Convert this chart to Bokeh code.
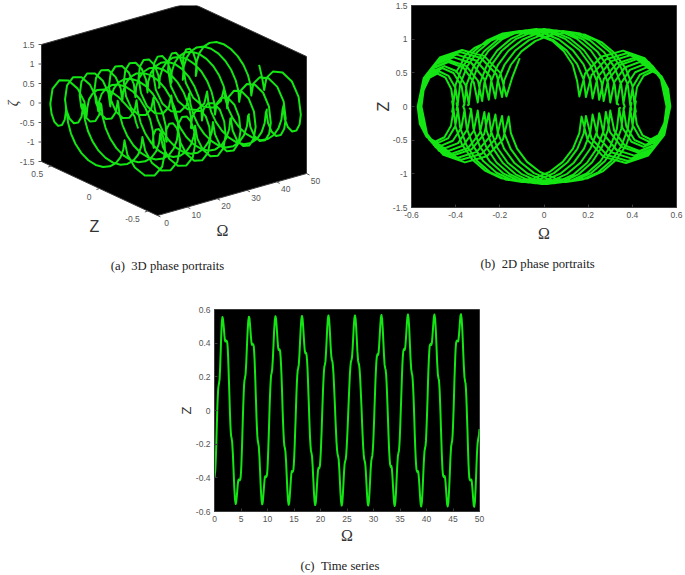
from bokeh.plotting import figure
from bokeh.layouts import column, row
from bokeh.models import Range1d, FixedTicker, Label, Spacer, Title
from bokeh.core.properties import value
from bokeh.embed import file_html
from bokeh.resources import INLINE
import math

# trajectory, one block per half-swing
omega = [
 0,.07,.14,.21,.28,.35,.42,.49,.56,.63,.7,.78,.85,.96,1.07,1.18,1.28,1.39,1.5,
 1.59,1.68,1.78,1.87,1.96,2.05,2.2,2.35,
 2.42,2.49,2.56,2.63,2.7,2.78,2.85,2.92,2.99,3.06,3.13,3.2,
 3.33,3.47,3.6,3.73,3.87,4.0,
 4.09,4.18,4.28,4.37,4.46,4.55,4.7,4.85,
 4.92,5.0,5.07,5.14,5.22,5.29,5.36,5.44,5.51,5.58,5.66,5.73,
 5.86,5.99,6.11,6.24,6.37,6.5,
 6.6,6.69,6.79,6.89,6.98,7.08,7.2,7.33,
 7.41,7.48,7.56,7.63,7.71,7.78,7.86,7.93,8.01,8.08,8.16,8.23,
 8.36,8.49,8.62,8.74,8.87,9.0,
 9.1,9.19,9.29,9.39,9.48,9.58,9.7,9.83,
 9.91,9.99,10.06,10.14,10.22,10.3,10.37,10.45,10.53,10.61,10.68,10.76,
 10.88,11.01,11.13,11.25,11.38,11.5,
 11.6,11.7,11.81,11.91,12.01,12.11,12.21,12.31,
 12.39,12.47,12.55,12.63,12.71,12.79,12.86,12.94,13.02,13.1,13.18,13.26,
 13.38,13.51,13.63,13.75,13.88,14.0,
 14.1,14.2,14.31,14.41,14.51,14.61,14.71,14.81,
 14.89,14.97,15.05,15.13,15.21,15.3,15.38,15.46,15.54,15.62,15.7,15.78,
 15.9,16.02,16.14,16.26,16.38,16.5,
 16.61,16.71,16.82,16.93,17.03,17.14,17.22,17.29,
 17.37,17.46,17.54,17.62,17.7,17.79,17.87,17.95,18.03,18.12,18.2,18.28,
 18.4,18.52,18.64,18.76,18.88,19.0,
 19.11,19.21,19.32,19.43,19.53,19.64,19.72,19.79,
 19.88,19.96,20.05,20.13,20.22,20.3,20.39,20.47,20.56,20.64,20.73,20.81,
 20.93,21.04,21.16,21.27,21.39,21.5,
 21.61,21.72,21.83,21.94,22.05,22.16,
 22.26,22.35,22.45,22.54,22.64,22.74,22.83,22.93,23.02,23.12,23.22,23.31,
 23.43,23.54,23.66,23.77,23.89,24.0,
 24.11,24.22,24.33,24.44,24.55,24.66,
 24.76,24.86,24.95,25.05,25.15,25.25,25.35,25.45,25.54,25.64,25.74,25.84,
 25.95,26.06,26.17,26.28,26.39,26.5,
 26.62,26.73,26.85,26.96,27.08,27.19,
 27.29,27.38,27.48,27.57,27.67,27.77,27.86,27.96,28.05,28.15,28.25,28.34,
 28.45,28.56,28.67,28.78,28.89,29.0,
 29.12,29.23,29.35,29.46,29.58,29.69,
 29.78,29.86,29.95,30.03,30.12,30.2,30.29,30.37,30.46,30.54,30.63,30.71,
 30.78,30.86,30.97,31.07,31.18,31.29,31.39,31.5,
 31.62,31.74,31.86,31.98,32.1,32.22,
 32.3,32.39,32.47,32.55,32.63,32.72,32.8,32.88,32.96,33.05,33.13,33.21,
 33.29,33.36,33.47,33.57,33.68,33.79,33.89,34.0,
 34.12,34.24,34.36,34.48,34.6,34.72,
 34.8,34.88,34.96,35.04,35.12,35.21,35.29,35.37,35.45,35.53,35.61,35.69,
 35.79,35.89,35.99,36.09,36.2,36.3,36.4,36.5,
 36.62,36.75,36.87,36.99,37.12,37.24,
 37.32,37.4,37.48,37.56,37.64,37.72,37.79,37.87,37.95,38.03,38.11,38.19,
 38.29,38.39,38.49,38.59,38.7,38.8,38.9,39.0,
 39.12,39.25,39.37,39.49,39.62,39.74,
 39.82,39.9,39.97,40.05,40.13,40.21,40.28,40.36,40.44,40.52,40.59,40.67,
 40.8,40.92,41.02,41.11,41.21,41.31,41.4,41.5,
 41.63,41.76,41.89,42.01,42.14,42.27,
 42.35,42.42,42.5,42.57,42.65,42.72,42.8,42.87,42.95,43.02,43.1,43.17,
 43.3,43.42,43.52,43.61,43.71,43.81,43.9,44.0,
 44.13,44.26,44.39,44.51,44.64,44.77,
 44.84,44.92,44.99,45.06,45.14,45.21,45.28,45.36,45.43,45.5,45.58,45.65,
 45.8,45.95,46.04,46.13,46.23,46.32,46.41,46.5,
 46.63,46.77,46.9,47.03,47.17,47.3,
 47.37,47.44,47.51,47.58,47.65,47.73,47.8,47.87,47.94,48.01,48.08,48.15,
 48.3,48.45,48.54,48.63,48.73,48.82,48.91,49.0,
 49.13,49.25,49.38,49.5,49.63,49.75,49.9,50.0,
]
z_values = [
 -.40,-.375,-.36,-.315,-.26,-.19,-.11,-.035,.04,.09,.13,.15,.16,.186,.259,.358,.456,.529,.555,
 .545,.519,.483,.446,.420,.41,.416,.41,
 .40,.372,.327,.268,.199,.125,.051,-.018,-.077,-.122,-.15,-.16,
 -.186,-.259,-.358,-.456,-.529,-.555,
 -.545,-.519,-.483,-.446,-.420,-.41,-.416,-.41,
 -.40,-.37,-.322,-.26,-.187,-.11,-.033,.04,.102,.15,.18,.19,
 .215,.282,.374,.465,.532,.557,
 .546,.515,.474,.432,.401,.39,.396,.39,
 .38,.351,.305,.245,.175,.10,.025,-.045,-.105,-.151,-.18,-.19,
 -.215,-.282,-.374,-.465,-.532,-.557,
 -.546,-.515,-.474,-.432,-.401,-.39,-.396,-.39,
 -.38,-.349,-.301,-.238,-.164,-.085,-.006,.068,.131,.179,.21,.22,
 .243,.305,.39,.475,.537,.56,
 .547,.51,.46,.41,.373,.36,.365,.36,
 .35,.321,.275,.215,.145,.07,-.005,-.075,-.135,-.181,-.21,-.22,
 -.243,-.305,-.39,-.475,-.537,-.56,
 -.547,-.51,-.46,-.41,-.373,-.36,-.365,-.36,
 -.35,-.319,-.271,-.208,-.134,-.055,.024,.098,.161,.209,.24,.25,
 .271,.328,.406,.484,.541,.562,
 .547,.507,.451,.396,.355,.34,.344,.34,
 .33,.30,.254,.193,.121,.045,-.031,-.103,-.164,-.21,-.24,-.25,
 -.271,-.328,-.406,-.484,-.541,-.562,
 -.547,-.507,-.451,-.396,-.355,-.34,-.344,-.34,
 -.33,-.299,-.251,-.188,-.114,-.035,.044,.118,.181,.229,.26,.27,
 .29,.344,.418,.491,.545,.565,
 .547,.499,.433,.366,.318,.30,
 .29,.262,.217,.158,.089,.015,-.059,-.128,-.187,-.232,-.26,-.27,
 -.29,-.344,-.418,-.491,-.545,-.565,
 -.547,-.499,-.433,-.366,-.318,-.30,
 -.29,-.26,-.212,-.15,-.077,0,.077,.15,.212,.26,.29,.30,
 .318,.366,.433,.499,.547,.565,
 .546,.494,.423,.351,.299,.28,
 .27,.241,.195,.135,.065,-.01,-.085,-.155,-.215,-.261,-.29,-.30,
 -.318,-.366,-.433,-.499,-.547,-.565,
 -.546,-.494,-.423,-.351,-.299,-.28,
 -.27,-.239,-.191,-.128,-.054,.025,.104,.178,.241,.289,.32,.33,
 .336,.33,.346,.389,.449,.508,.551,.567,
 .546,.488,.409,.329,.271,.25,
 .24,.211,.165,.105,.035,-.04,-.115,-.185,-.245,-.291,-.32,-.33,
 -.336,-.33,-.346,-.389,-.449,-.508,-.551,-.567,
 -.546,-.488,-.409,-.329,-.271,-.25,
 -.24,-.209,-.161,-.098,-.024,.055,.134,.208,.271,.319,.35,.36,
 .366,.36,.374,.413,.465,.518,.556,.57,
 .547,.483,.395,.308,.243,.22,
 .21,.181,.135,.075,.005,-.07,-.145,-.215,-.275,-.321,-.35,-.36,
 -.366,-.36,-.374,-.413,-.465,-.518,-.556,-.57,
 -.547,-.483,-.395,-.308,-.243,-.22,
 -.21,-.179,-.131,-.068,.006,.085,.164,.238,.301,.349,.38,.39,
 .396,.39,.402,.435,.48,.525,.558,.57,
 .545,.475,.38,.285,.215,.19,
 .18,.151,.105,.045,-.025,-.10,-.175,-.245,-.305,-.351,-.38,-.39,
 -.396,-.39,-.402,-.435,-.48,-.525,-.558,-.57,
 -.545,-.475,-.38,-.285,-.215,-.19,
 -.18,-.15,-.102,-.04,.033,.11,.187,.26,.322,.37,.40,.41,
 .416,.41,.421,.451,.491,.532,.562,.572,
 .545,.472,.371,.27,.197,.17,
 .16,.131,.085,.025,-.045,-.12,-.195,-.265,-.325,-.371,-.40,-.41,
 -.416,-.41,-.421,-.451,-.491,-.532,-.562,-.572,
 -.545,-.472,-.371,-.27,-.197,-.17,-.145,-.11,
]
zeta = [
 .50,.63,.75,.87,.95,1.05,1.10,1.07,.97,.82,.62,.38,.15,.49,.739,.83,.719,.415,0,
 -.245,-.424,-.49,-.428,-.26,-.03,.08,-.05,
 -.322,-.575,-.792,-.959,-1.064,-1.10,-1.068,-.973,-.822,-.625,-.396,-.15,
 -.49,-.739,-.83,-.719,-.415,0,
 .245,.424,.49,.428,.26,.03,-.08,.05,
 .327,.585,.806,.977,1.084,1.12,1.087,.989,.833,.63,.394,.14,
 .465,.703,.79,.684,.395,0,
 -.26,-.45,-.52,-.454,-.275,-.03,.05,-.05,
 -.327,-.585,-.806,-.977,-1.084,-1.12,-1.087,-.989,-.833,-.63,-.394,-.14,
 -.465,-.703,-.79,-.684,-.395,0,
 .26,.45,.52,.454,.275,.03,-.05,.05,
 .33,.59,.814,.985,1.093,1.13,1.096,.995,.834,.625,.382,.12,
 .44,.674,.76,.658,.38,0,
 -.285,-.494,-.57,-.498,-.30,-.03,0,-.05,
 -.33,-.59,-.814,-.985,-1.093,-1.13,-1.096,-.995,-.834,-.625,-.382,-.12,
 -.44,-.674,-.76,-.658,-.38,0,
 .285,.494,.57,.498,.30,.03,0,.05,
 .332,.595,.821,.994,1.103,1.14,1.105,1.0,.835,.62,.369,.10,
 .41,.637,.72,.624,.36,0,
 -.30,-.52,-.60,-.524,-.315,-.03,-.02,-.05,
 -.332,-.595,-.821,-.994,-1.103,-1.14,-1.105,-1.0,-.835,-.62,-.369,-.10,
 -.41,-.637,-.72,-.624,-.36,0,
 .30,.52,.60,.524,.315,.03,.02,.05,
 .335,.60,.828,1.003,1.113,1.15,1.114,1.007,.836,.615,.357,.08,
 .39,.617,.70,.606,.35,0,
 -.33,-.572,-.66,-.58,-.36,-.06,
 -.342,-.605,-.831,-1.004,-1.113,-1.15,-1.114,-1.007,-.836,-.615,-.357,-.08,
 -.39,-.617,-.70,-.606,-.35,0,
 .33,.572,.66,.58,.36,.06,
 .342,.605,.831,1.004,1.113,1.15,1.113,1.004,.831,.605,.342,.06,
 .36,.58,.66,.572,.33,0,
 -.34,-.589,-.68,-.60,-.38,-.08,
 -.357,-.615,-.836,-1.007,-1.114,-1.15,-1.113,-1.004,-.831,-.605,-.342,-.06,
 -.36,-.58,-.66,-.572,-.33,0,
 .34,.589,.68,.60,.38,.08,
 .355,.61,.829,1.0,1.104,1.14,1.103,.993,.818,.59,.325,.04,
 .03,.05,.335,.544,.62,.537,.31,0,
 -.365,-.632,-.73,-.646,-.415,-.10,
 -.369,-.62,-.835,-1.0,-1.105,-1.14,-1.103,-.993,-.818,-.59,-.325,-.04,
 -.03,-.05,-.335,-.544,-.62,-.537,-.31,0,
 .365,.632,.73,.646,.415,.10,
 .367,.615,.828,.992,1.095,1.13,1.093,.984,.811,.585,.322,.04,
 0,.05,.315,.509,.58,.502,.29,0,
 -.385,-.667,-.77,-.683,-.445,-.12,
 -.382,-.625,-.834,-.995,-1.096,-1.13,-1.093,-.984,-.811,-.585,-.322,-.04,
 0,-.05,-.315,-.509,-.58,-.502,-.29,0,
 .385,.667,.77,.683,.445,.12,
 .379,.62,.827,.986,1.086,1.12,1.083,.974,.801,.575,.312,.03,
 -.05,.05,.295,.474,.54,.468,.27,0,
 -.405,-.701,-.81,-.72,-.475,-.14,
 -.394,-.63,-.833,-.989,-1.087,-1.12,-1.083,-.974,-.801,-.575,-.312,-.03,
 .05,-.05,-.295,-.474,-.54,-.468,-.27,0,
 .405,.701,.81,.72,.475,.14,
 .389,.62,.819,.971,1.067,1.10,1.064,.957,.786,.565,.307,.03,
 -.08,.05,.285,.457,.52,.45,.26,0,
 -.42,-.727,-.84,-.748,-.495,-.15,
 -.396,-.625,-.822,-.973,-1.068,-1.10,-1.064,-.957,-.786,-.565,-.307,-.03,
 .08,-.05,-.285,-.457,-.52,-.45,-.26,0,
 .42,.727,.84,.748,.495,.15,.42,.72,
]
assert len(omega) == len(z_values) == len(zeta), (len(omega), len(z_values), len(zeta))

zeta_ticks_3d = [-1.5, -1, -.5, 0, .5, 1, 1.5]
zeta_labels_3d = ["-1.5", "-1", "-0.5", "0", "0.5", "1", "1.5"]
z_ticks_3d = [-.5, 0, .5]
z_labels_3d = ["-0.5", "0", "0.5"]
omega_ticks_3d = [0, 10, 20, 30, 40, 50]
omega_labels_3d = ["0", "10", "20", "30", "40", "50"]

GREEN = "#14e614"
TICK_GRAY = "#555555"
SANS = "Liberation Sans"
SERIF = "Liberation Serif"
LW = 2.0


def project(om, z, ze):
    """3D view of the box Omega 0..50, Z -0.6..0.6, zeta -1.5..1.5, in page pixels."""
    dz = (z + .6) / 1.2
    return (157 + om / 50 * 149 - dz * 116,
            215 - om / 50 * 42 - dz * 54 - (ze + 1.5) / 3 * 117)


# ---------- (a) 3D phase portrait ----------
# the row lines this frame up with (b)'s, which starts 5px down the page
pa = figure(frame_width=350, frame_height=280, x_range=Range1d(0, 350), y_range=Range1d(285, 5),
            output_backend="svg", toolbar_location=None, min_border=0,
            x_axis_location=None, y_axis_location=None, outline_line_color=None)
pa.xgrid.visible = False
pa.ygrid.visible = False

corners = [(0, .6, -1.5), (0, -.6, -1.5), (50, -.6, -1.5), (50, -.6, 1.5), (50, .6, 1.5), (0, .6, 1.5)]
cx, cy = zip(*[project(*c) for c in corners])
pa.patch(list(cx), list(cy), fill_color="black", line_color="#3a3a3a", line_width=1)

for ze, lab in zip(zeta_ticks_3d, zeta_labels_3d):
    x, y = project(0, .6, ze)
    pa.line([x - 3, x], [y, y], line_color=TICK_GRAY, line_width=1)
    pa.text([x - 7], [y], text=[lab], text_font=value(SANS), text_font_size="8.5px",
            text_color=TICK_GRAY, text_align="right", text_baseline="middle")
for zz, lab in zip(z_ticks_3d, z_labels_3d):
    x, y = project(0, zz, -1.5)
    pa.line([x - 3, x], [y + 1, y], line_color=TICK_GRAY, line_width=1)
    pa.text([x - 8], [y + 8], text=[lab], text_font=value(SANS), text_font_size="8.5px",
            text_color=TICK_GRAY, text_align="right", text_baseline="middle")
for om, lab in zip(omega_ticks_3d, omega_labels_3d):
    x, y = project(om, -.6, -1.5)
    pa.line([x, x + 3], [y, y + 1.5], line_color=TICK_GRAY, line_width=1)
    pa.text([x + 9], [y + 7.5], text=[lab], text_font=value(SANS), text_font_size="8.5px",
            text_color=TICK_GRAY, text_align="center", text_baseline="middle")

pts = [project(o, a, b) for o, a, b in zip(omega, z_values, zeta)]
pa.line([q[0] for q in pts], [q[1] for q in pts], line_color=GREEN, line_width=LW, line_join="round")

pa.add_layout(Label(x=94, y=226, text="Z", text_font=SANS, text_font_size="16px", text_color="#333333",
                    text_align="center", text_baseline="middle"))
pa.add_layout(Label(x=222, y=230, text="Ω", text_font=SERIF, text_font_size="16px", text_color="#333333",
                    text_align="center", text_baseline="middle"))
pa.add_layout(Label(x=13, y=103, text="ζ", text_font=SERIF, text_font_size="14px", text_font_style="italic",
                    text_color="#333333", angle=math.pi / 2, text_align="center", text_baseline="middle"))
pa.add_layout(Label(x=167, y=265, text="(a)\u00a0\u00a03D phase portraits", text_font=SERIF, text_font_size="12.7px",
                    text_color="#222222", text_align="center", text_baseline="middle"))


def panel(xs, ys, xlim, ylim, xticks, xlabels, yticks, ylabels, ylab, ylab_size, standoff,
          left, right, top, bottom, caption, cap_offset, cap_standoff, xlab_standoff):
    p = figure(frame_width=265, frame_height=202, x_range=Range1d(*xlim), y_range=Range1d(*ylim),
               output_backend="svg", toolbar_location=None,
               min_border_left=left, min_border_right=right, min_border_top=top, min_border_bottom=bottom,
               background_fill_color="black", outline_line_color="#3a3a3a")
    p.xgrid.visible = False
    p.ygrid.visible = False
    p.line(xs, ys, line_color=GREEN, line_width=LW, line_join="round")
    for ax, ticks, labs in ((p.xaxis[0], xticks, xlabels), (p.yaxis[0], yticks, ylabels)):
        ax.ticker = FixedTicker(ticks=ticks)
        ax.major_label_overrides = dict(zip(ticks, labs))
        ax.minor_tick_line_color = None
        ax.major_tick_in = 3
        ax.major_tick_out = 0
        ax.major_tick_line_color = "#3a3a3a"
        ax.axis_line_color = "#3a3a3a"
        ax.major_label_text_font = SANS
        ax.major_label_text_font_size = "8.5px"
        ax.major_label_text_color = TICK_GRAY
        ax.major_label_standoff = 4
    p.xaxis[0].axis_label = "Ω"
    p.xaxis[0].axis_label_text_font = SERIF
    p.xaxis[0].axis_label_text_font_size = "16px"
    p.xaxis[0].axis_label_text_font_style = "normal"
    p.xaxis[0].axis_label_text_color = "#333333"
    p.xaxis[0].axis_label_standoff = xlab_standoff
    p.yaxis[0].axis_label = ylab
    p.yaxis[0].axis_label_text_font = SANS
    p.yaxis[0].axis_label_text_font_size = ylab_size
    p.yaxis[0].axis_label_text_font_style = "normal"
    p.yaxis[0].axis_label_text_color = "#333333"
    p.yaxis[0].axis_label_standoff = standoff
    p.add_layout(Title(text=caption, align="left", offset=cap_offset, standoff=cap_standoff,
                       text_font=SERIF, text_font_size="12.7px", text_font_style="normal",
                       text_color="#222222"), "below")
    return p


# ---------- (b) 2D phase portrait ----------
x_ticks_b = [-.6, -.4, -.2, 0, .2, .4, .6]
x_labels_b = ["-0.6", "-0.4", "-0.2", "0", "0.2", "0.4", "0.6"]
y_ticks_b = [-1.5, -1, -.5, 0, .5, 1, 1.5]
y_labels_b = ["-1.5", "-1", "-0.5", "0", "0.5", "1", "1.5"]
pb = panel(z_values, zeta, (-.6, .6), (-1.5, 1.5), x_ticks_b, x_labels_b, y_ticks_b, y_labels_b,
           "Z", "16px", -2, 61, 9, 5, 78, "(b)\u00a0\u00a02D phase portraits", 69, 20, 4)

# ---------- (c) time series ----------
x_ticks_c = [0, 5, 10, 15, 20, 25, 30, 35, 40, 45, 50]
x_labels_c = ["0", "5", "10", "15", "20", "25", "30", "35", "40", "45", "50"]
y_ticks_c = [-.6, -.4, -.2, 0, .2, .4, .6]
y_labels_c = ["-0.6", "-0.4", "-0.2", "0", "0.2", "0.4", "0.6"]
pc = panel(omega, z_values, (0, 50), (-.6, .6), x_ticks_c, x_labels_c, y_ticks_c, y_labels_c,
           "Z", "13px", -1, 44, 31, 24, 64, "(c)\u00a0\u00a0Time series", 86, 21, 2)

root = column(row(pa, pb), row(Spacer(width=170, height=10), pc))
open("out.html", "w").write(file_html(root, INLINE))
